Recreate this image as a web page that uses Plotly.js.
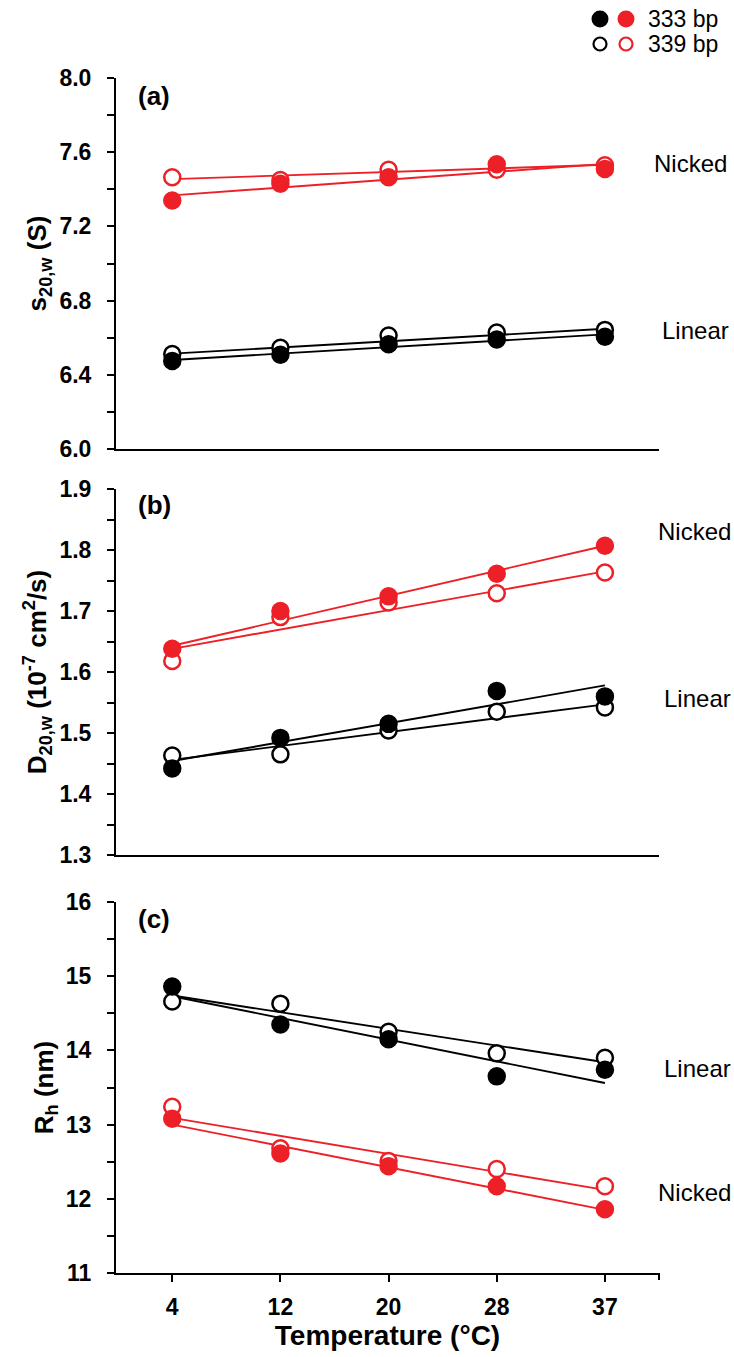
<!DOCTYPE html>
<html>
<head>
<meta charset="utf-8">
<script src="https://cdn.plot.ly/plotly-3.0.1.min.js"></script>
<style>html,body{margin:0;padding:0;background:#fff;}#chart{width:734px;height:1357px;}</style>
</head>
<body>
<div id="chart"></div>
<script>
// ---- data ----
const temps = ["4", "12", "20", "28", "37"];

// (a) s20,w (S)
const s_nicked_333 = [7.34, 7.43, 7.465, 7.535, 7.51];
const s_nicked_339 = [7.465, 7.45, 7.505, 7.505, 7.53];
const s_linear_333 = [6.475, 6.508, 6.565, 6.59, 6.605];
const s_linear_339 = [6.512, 6.546, 6.612, 6.628, 6.642];
const s_fit_nicked_333 = [7.367, 7.537];
const s_fit_nicked_339 = [7.455, 7.532];
const s_fit_linear_333 = [6.48, 6.618];
const s_fit_linear_339 = [6.514, 6.648];

// (b) D20,w (1e-7 cm2/s)
const d_nicked_333 = [1.638, 1.70, 1.724, 1.761, 1.807];
const d_nicked_339 = [1.618, 1.69, 1.714, 1.729, 1.763];
const d_linear_333 = [1.442, 1.492, 1.515, 1.569, 1.56];
const d_linear_339 = [1.463, 1.465, 1.504, 1.535, 1.542];
const d_fit_nicked_333 = [1.643, 1.807];
const d_fit_nicked_339 = [1.638, 1.765];
const d_fit_linear_333 = [1.454, 1.578];
const d_fit_linear_339 = [1.456, 1.547];

// (c) Rh (nm)
const r_nicked_333 = [13.08, 12.61, 12.44, 12.17, 11.86];
const r_nicked_339 = [13.24, 12.68, 12.51, 12.40, 12.17];
const r_linear_333 = [14.86, 14.35, 14.15, 13.65, 13.74];
const r_linear_339 = [14.66, 14.63, 14.25, 13.96, 13.90];
const r_fit_nicked_333 = [13.0, 11.85];
const r_fit_nicked_339 = [13.09, 12.12];
const r_fit_linear_333 = [14.73, 13.56];
const r_fit_linear_339 = [14.74, 13.84];

const legendLabels = ["333 bp", "339 bp"];
const RED = "rgb(236,32,38)";
const BLACK = "#000";

const fitX = [temps[0], temps[temps.length - 1]];
const traces = [];
function pts(y, color, filled, xa, ya) {
  traces.push({
    x: temps, y: y, xaxis: xa, yaxis: ya, type: "scatter", mode: "markers",
    showlegend: false, hoverinfo: "skip",
    marker: {size: 16, color: filled ? color : "#fff", line: {color: color, width: 2.5}}
  });
}
function fit(y, color, xa, ya) {
  traces.push({
    x: fitX, y: y, xaxis: xa, yaxis: ya, type: "scatter", mode: "lines",
    showlegend: false, hoverinfo: "skip", line: {color: color, width: 1.9}
  });
}
// panel a
fit(s_fit_nicked_333, RED, "x", "y"); fit(s_fit_nicked_339, RED, "x", "y");
fit(s_fit_linear_333, BLACK, "x", "y"); fit(s_fit_linear_339, BLACK, "x", "y");
pts(s_nicked_339, RED, false, "x", "y"); pts(s_nicked_333, RED, true, "x", "y");
pts(s_linear_339, BLACK, false, "x", "y"); pts(s_linear_333, BLACK, true, "x", "y");
// panel b
fit(d_fit_nicked_333, RED, "x2", "y2"); fit(d_fit_nicked_339, RED, "x2", "y2");
fit(d_fit_linear_333, BLACK, "x2", "y2"); fit(d_fit_linear_339, BLACK, "x2", "y2");
pts(d_nicked_339, RED, false, "x2", "y2"); pts(d_nicked_333, RED, true, "x2", "y2");
pts(d_linear_339, BLACK, false, "x2", "y2"); pts(d_linear_333, BLACK, true, "x2", "y2");
// panel c
fit(r_fit_nicked_333, RED, "x3", "y3"); fit(r_fit_nicked_339, RED, "x3", "y3");
fit(r_fit_linear_333, BLACK, "x3", "y3"); fit(r_fit_linear_339, BLACK, "x3", "y3");
pts(r_nicked_339, RED, false, "x3", "y3"); pts(r_nicked_333, RED, true, "x3", "y3");
pts(r_linear_339, BLACK, false, "x3", "y3"); pts(r_linear_333, BLACK, true, "x3", "y3");

const H = 1357;
const L = 116, R = 75;
const W = 734 - L - R;
const FONT = "Liberation Sans, Arial, sans-serif";
const P = px => 1 - px / H;
const X = px => (px - L) / W;

const tickFont = {family: FONT, size: 23, color: "#000", weight: "bold"};
const titleFont = {family: FONT, size: 26, color: "#000", weight: "bold"};

function xax(anchor, showTicks) {
  return {
    anchor: anchor, type: "category", categoryorder: "array", categoryarray: temps,
    range: [-0.52, 4.5], domain: [0, 1], showgrid: false, zeroline: false,
    showline: true, linecolor: "#000", linewidth: 2,
    ticks: showTicks ? "outside" : "", ticklen: 7, tickwidth: 2, tickcolor: "#000",
    showticklabels: showTicks, tickfont: tickFont, ticklabelstandoff: 5, fixedrange: true
  };
}
function yax(anchor, dom, range, dtick, minorDtick, title, fmt) {
  return {
    anchor: anchor, domain: dom, range: range, tick0: range[0], dtick: dtick,
    tickformat: fmt, showgrid: false, zeroline: false,
    showline: true, linecolor: "#000", linewidth: 2,
    ticks: "outside", ticklen: 7, tickwidth: 2, tickcolor: "#000",
    minor: {dtick: minorDtick, tick0: range[0], ticks: "outside", ticklen: 7, tickwidth: 2, tickcolor: "#000", showgrid: false},
    tickfont: tickFont, ticklabelstandoff: 11,
    title: {text: title, font: titleFont, standoff: 5}, fixedrange: true
  };
}

const layout = {
  width: 734, height: 1357,
  margin: {l: L, r: R, t: 0, b: 0},
  paper_bgcolor: "#fff", plot_bgcolor: "rgba(0,0,0,0)",
  showlegend: false,
  font: {family: FONT, color: "#000"},
  xaxis: xax("y", false),
  xaxis2: xax("y2", false),
  xaxis3: Object.assign(xax("y3", true), {title: {text: "Temperature (°C)", font: {family: FONT, size: 28, color: "#000", weight: "bold"}, standoff: 6}}),
  yaxis: yax("x", [P(449), P(78)], [6.0, 8.0], 0.4, 0.2, "s<sub>20,w</sub> (S)", ".1f"),
  yaxis2: yax("x2", [P(855), P(489)], [1.3, 1.9], 0.1, 0.05, "D<sub>20,w</sub> (10<sup>-7</sup> cm<sup>2</sup>/s)", ".1f"),
  yaxis3: yax("x3", [P(1273), P(902)], [11, 16], 1, 0.5, "R<sub>h</sub> (nm)", "d"),
  shapes: [
    {type: "line", xref: "paper", yref: "paper", x0: 1, x1: 1, ysizemode: "pixel", yanchor: P(1273), y0: 0, y1: -7,
     line: {color: "#000", width: 2}},
    {type: "circle", xref: "paper", yref: "paper", xsizemode: "pixel", ysizemode: "pixel",
     xanchor: X(600), yanchor: P(19), x0: -7.5, x1: 7.5, y0: -7.5, y1: 7.5, fillcolor: BLACK, line: {color: BLACK, width: 2}},
    {type: "circle", xref: "paper", yref: "paper", xsizemode: "pixel", ysizemode: "pixel",
     xanchor: X(626), yanchor: P(19), x0: -7.5, x1: 7.5, y0: -7.5, y1: 7.5, fillcolor: RED, line: {color: RED, width: 2}},
    {type: "circle", xref: "paper", yref: "paper", xsizemode: "pixel", ysizemode: "pixel",
     xanchor: X(600), yanchor: P(44), x0: -6.5, x1: 6.5, y0: -6.5, y1: 6.5, fillcolor: "#fff", line: {color: BLACK, width: 2.2}},
    {type: "circle", xref: "paper", yref: "paper", xsizemode: "pixel", ysizemode: "pixel",
     xanchor: X(626), yanchor: P(44), x0: -6.5, x1: 6.5, y0: -6.5, y1: 6.5, fillcolor: "#fff", line: {color: RED, width: 2.2}}
  ],
  annotations: []
};

function note(text, xpx, ypx, bold, size) {
  layout.annotations.push({
    text: text, xref: "paper", yref: "paper", x: X(xpx), y: P(ypx), showarrow: false,
    xanchor: "left", yanchor: "middle",
    font: {family: FONT, size: size, color: "#000", weight: bold ? "bold" : "normal"}
  });
}
note(legendLabels[0], 646, 19, false, 23);
note(legendLabels[1], 646, 44, false, 23);
note("(a)", 136, 96, true, 26);
note("(b)", 136, 505, true, 26);
note("(c)", 136, 919, true, 26);
note("Nicked", 652, 164, false, 24);
note("Linear", 660, 330, false, 24);
note("Nicked", 656, 531, false, 24);
note("Linear", 662, 698, false, 24);
note("Linear", 662, 1068, false, 24);
note("Nicked", 656, 1192, false, 24);

Plotly.newPlot("chart", traces, layout, {displayModeBar: false, staticPlot: true});
</script>
</body>
</html>
